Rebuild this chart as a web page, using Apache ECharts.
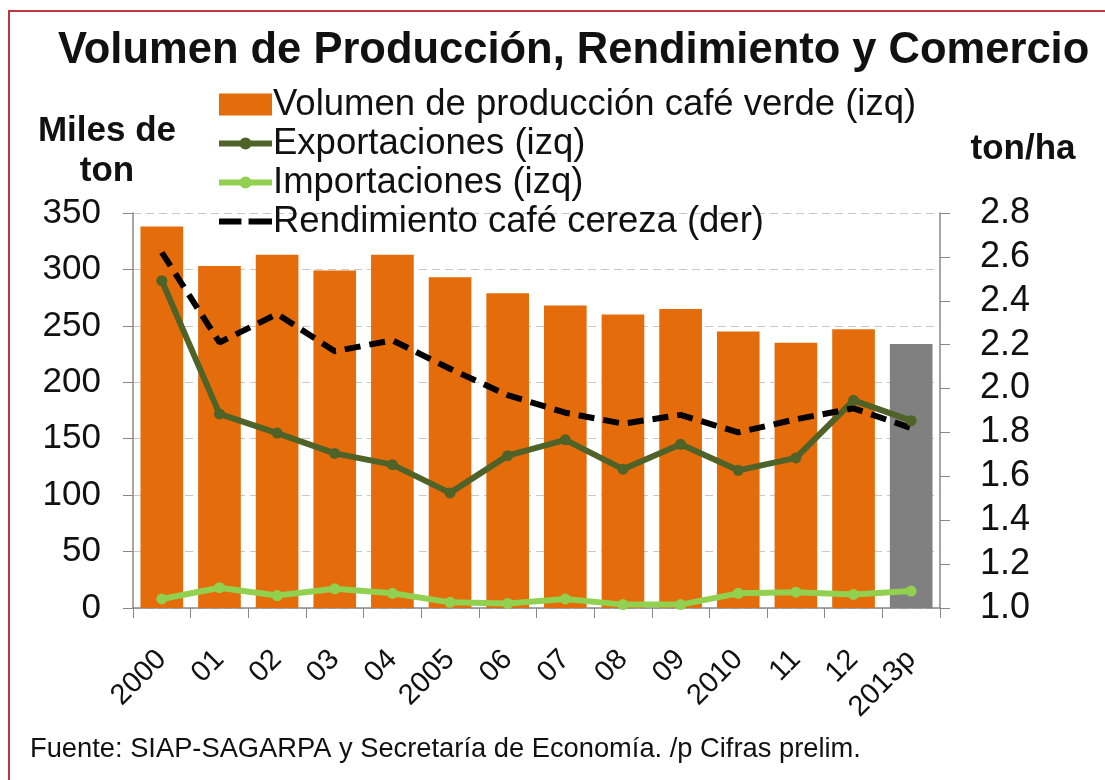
<!DOCTYPE html>
<html>
<head>
<meta charset="utf-8">
<script src="https://cdn.jsdelivr.net/npm/echarts@6/dist/echarts.min.js"></script>
<style>
  html, body { margin: 0; padding: 0; background: #fff; }
  #chart { width: 1105px; height: 780px; }
  .frame {
    position: absolute; left: 8px; top: 10px; right: 0; bottom: 0;
    border-left: 2px solid #c4343c; border-top: 2px solid #c4343c;
    pointer-events: none;
  }
</style>
</head>
<body>
<div id="chart"></div>
<div class="frame"></div>
<script>
const years = ["2000", "01", "02", "03", "04", "2005", "06", "07", "08", "09", "2010", "11", "12", "2013p"];
const production = [338, 303, 313, 299, 313, 293, 279, 268, 260, 265, 245, 235, 247, 234];
const exportsData = [290, 172, 155, 137, 127, 102, 135, 149, 123, 145, 122, 133, 184, 166];
const importsData = [8, 18, 11, 17, 13, 5, 4, 8, 3, 3, 13, 14, 12, 15];
const yieldData = [2.62, 2.21, 2.34, 2.17, 2.22, 2.09, 1.97, 1.89, 1.84, 1.88, 1.80, 1.86, 1.91, 1.82];

const orange = "#E46C0A";
const grey = "#808080";
const darkGreen = "#4F6228";
const lightGreen = "#92D050";
const font = "Liberation Sans, Arial, sans-serif";

// legend icons: thick line with a small dot, and two dashes
const lineDotIcon = "path://M0,3H52V9H0Z M26,0A6,6 0 1,1 26,12A6,6 0 1,1 26,0Z";
const dashIcon = "path://M0,0H22V6H0Z M29,0H52V6H29Z";

const chart = echarts.init(document.getElementById("chart"));

chart.setOption({
  animation: false,
  textStyle: { fontFamily: font, color: "#111" },
  title: {
    text: "Volumen de Producción, Rendimiento y Comercio",
    left: 53,
    top: 24,
    textStyle: { fontSize: 43.5, fontWeight: "bold", color: "#111", fontFamily: font },
  },
  legend: {
    orient: "vertical",
    left: 214,
    top: 81,
    itemWidth: 53,
    itemHeight: 22,
    itemGap: 2,
    symbolKeepAspect: true,
    textStyle: { fontSize: 36.5, lineHeight: 36, color: "#111", padding: [0, 0, 0, -4] },
    data: [
      { name: "Volumen de producción café verde (izq)", icon: "rect" },
      { name: "Exportaciones (izq)", icon: lineDotIcon },
      { name: "Importaciones (izq)", icon: lineDotIcon },
      { name: "Rendimiento café cereza (der)", icon: dashIcon },
    ],
  },
  grid: { left: 133, right: 165, top: 213, bottom: 172 },
  xAxis: {
    type: "category",
    data: years,
    axisLine: { lineStyle: { color: "#888", width: 1.5 } },
    axisTick: { show: true, length: 10, lineStyle: { color: "#888" } },
    axisLabel: { rotate: 45, interval: 0, fontSize: 29, color: "#111", margin: 47 },
  },
  yAxis: [
    {
      type: "value",
      min: 0,
      max: 350,
      interval: 50,
      name: "Miles de\nton",
      nameLocation: "end",
      nameGap: 22,
      nameTextStyle: { fontSize: 35, fontWeight: "bold", color: "#111", align: "center", padding: [0, 52, 0, 0], lineHeight: 40 },
      axisLine: { show: true, lineStyle: { color: "#888", width: 1.5 } },
      axisTick: { show: true, length: 10, lineStyle: { color: "#888" } },
      axisLabel: { fontSize: 35, color: "#111", margin: 32 },
      splitLine: { lineStyle: { color: "#c8c8c8", type: [8, 5] } },
    },
    {
      type: "value",
      min: 1.0,
      max: 2.8,
      interval: 0.2,
      name: "ton/ha",
      nameLocation: "end",
      nameGap: 46,
      nameTextStyle: { fontSize: 35, fontWeight: "bold", color: "#111", align: "center", padding: [0, 0, 0, 166] },
      axisLine: { show: true, lineStyle: { color: "#888", width: 1.5 } },
      axisTick: { show: true, length: 10, lineStyle: { color: "#888" } },
      axisLabel: { fontSize: 36, color: "#111", margin: 40, formatter: (v) => v.toFixed(1) },
      splitLine: { show: false },
    },
  ],
  graphic: [
    {
      type: "text",
      left: 30,
      top: 736,
      style: {
        text: "Fuente: SIAP-SAGARPA y Secretaría de Economía. /p Cifras prelim.",
        fontSize: 27.3,
        fontFamily: font,
        fill: "#111",
      },
    },
  ],
  series: [
    {
      name: "Volumen de producción café verde (izq)",
      type: "bar",
      barCategoryGap: "26%",
      itemStyle: { color: orange },
      data: production.map((v, i) => (i === production.length - 1 ? { value: v, itemStyle: { color: grey } } : v)),
    },
    {
      name: "Exportaciones (izq)",
      type: "line",
      data: exportsData,
      symbol: "circle",
      symbolSize: 11,
      lineStyle: { color: darkGreen, width: 6 },
      itemStyle: { color: darkGreen },
    },
    {
      name: "Importaciones (izq)",
      type: "line",
      data: importsData,
      symbol: "circle",
      symbolSize: 11,
      lineStyle: { color: lightGreen, width: 6 },
      itemStyle: { color: lightGreen },
    },
    {
      name: "Rendimiento café cereza (der)",
      type: "line",
      yAxisIndex: 1,
      data: yieldData,
      symbol: "none",
      lineStyle: { color: "#000", width: 6, type: [16, 9] },
      itemStyle: { color: "#000" },
    },
  ],
});
</script>
</body>
</html>
